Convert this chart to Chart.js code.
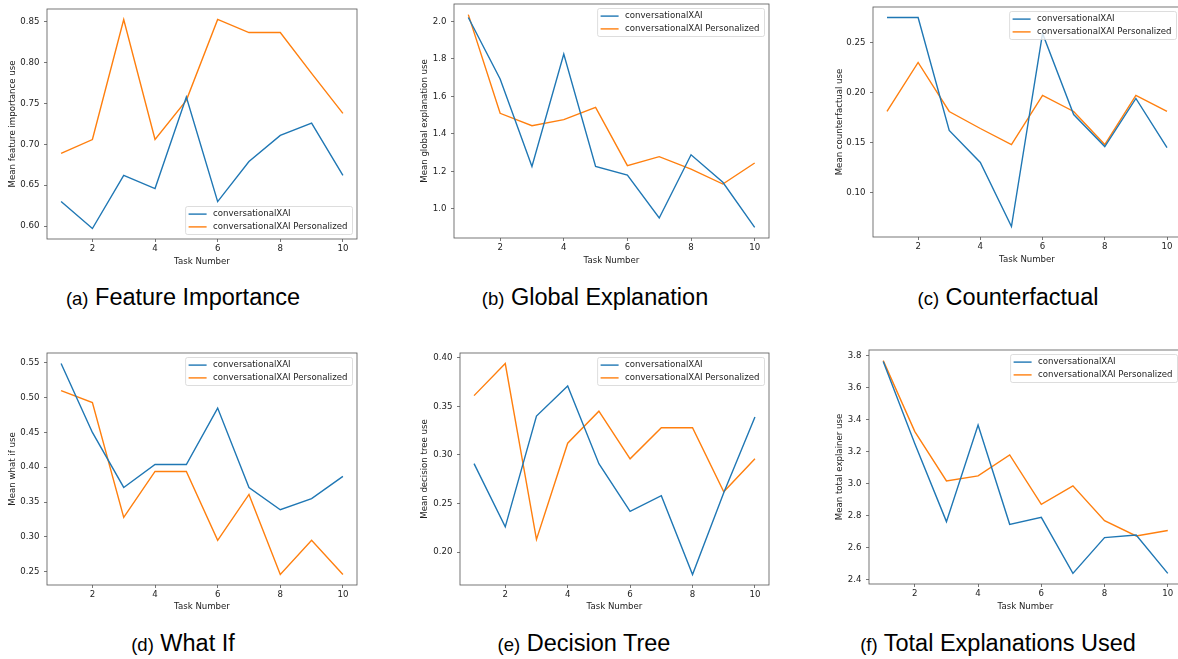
<!DOCTYPE html>
<html>
<head>
<meta charset="utf-8">
<script src="https://cdn.jsdelivr.net/npm/chart.js@4.4.0/dist/chart.umd.min.js"></script>
<style>
  body { margin: 0; width: 1178px; height: 659px; overflow: hidden; background: #fff; position: relative; }
  .panel { position: absolute; }
  .cap { position: absolute; width: 400px; text-align: center; white-space: nowrap;
         font-family: "Liberation Sans", Arial, sans-serif; font-size: 23.5px; line-height: 23.5px; color: #000; }
  .cap small { font-size: 18.5px; }
</style>
</head>
<body>
<div class="cap" style="left:-17px;top:286px"><small>(a)</small> Feature Importance</div>
<div class="cap" style="left:395px;top:286px"><small>(b)</small> Global Explanation</div>
<div class="cap" style="left:808px;top:286px"><small>(c)</small> Counterfactual</div>
<div class="cap" style="left:-17px;top:632px"><small>(d)</small> What If</div>
<div class="cap" style="left:384px;top:632px"><small>(e)</small> Decision Tree</div>
<div class="cap" style="left:798px;top:632px"><small>(f)</small> Total Explanations Used</div>

<script>
// data
const tasks = [1, 2, 3, 4, 5, 6, 7, 8, 9, 10];
const seriesNames = ['conversationalXAI', 'conversationalXAI Personalized'];
const xTicks = [2, 4, 6, 8, 10];

const featureBase = [0.630, 0.597, 0.662, 0.646, 0.758, 0.630, 0.679, 0.711, 0.726, 0.662];
const featurePers = [0.689, 0.706, 0.853, 0.706, 0.754, 0.853, 0.837, 0.837, 0.787, 0.738];
const featureTicks = [0.60, 0.65, 0.70, 0.75, 0.80, 0.85];

const globalBase = [2.021, 1.693, 1.227, 1.826, 1.227, 1.181, 0.952, 1.289, 1.142, 0.902];
const globalPers = [2.036, 1.510, 1.444, 1.476, 1.542, 1.231, 1.279, 1.213, 1.133, 1.245];
const globalTicks = [1.0, 1.2, 1.4, 1.6, 1.8, 2.0];

const cfBase = [0.275, 0.275, 0.162, 0.130, 0.066, 0.259, 0.178, 0.146, 0.194, 0.145];
const cfPers = [0.181, 0.230, 0.181, 0.164, 0.148, 0.197, 0.181, 0.148, 0.197, 0.181];
const cfTicks = [0.10, 0.15, 0.20, 0.25];

const whatIfBase = [0.549, 0.450, 0.371, 0.404, 0.404, 0.485, 0.371, 0.339, 0.355, 0.387];
const whatIfPers = [0.510, 0.493, 0.328, 0.394, 0.394, 0.295, 0.361, 0.246, 0.295, 0.246];
const whatIfTicks = [0.25, 0.30, 0.35, 0.40, 0.45, 0.50, 0.55];

const treeBase = [0.291, 0.226, 0.340, 0.371, 0.291, 0.242, 0.258, 0.177, 0.261, 0.339];
const treePers = [0.361, 0.394, 0.213, 0.312, 0.345, 0.296, 0.328, 0.328, 0.262, 0.296];
const treeTicks = [0.20, 0.25, 0.30, 0.35, 0.40];

const totalBase = [3.764, 3.250, 2.762, 3.367, 2.745, 2.789, 2.438, 2.662, 2.678, 2.438];
const totalPers = [3.770, 3.326, 3.017, 3.048, 3.180, 2.870, 2.986, 2.768, 2.672, 2.706];
const totalTicks = [2.4, 2.6, 2.8, 3.0, 3.2, 3.4, 3.6, 3.8];

// page layout of each plot area (px)
const panels = [
  { base: featureBase, pers: featurePers, ticks: featureTicks, dec: 2, yTitle: 'Mean feature importance use',
    L: 46.6, T: 9.3, R: 356.4, B: 239.3, yTitleX: 12, xTitleY: 22.3, legend: 'lower' },
  { base: globalBase, pers: globalPers, ticks: globalTicks, dec: 1, yTitle: 'Mean global explanation use',
    L: 454.3, T: 4, R: 769, B: 237.7, yTitleX: 425, xTitleY: 22.3, legend: 'upper' },
  { base: cfBase, pers: cfPers, ticks: cfTicks, dec: 2, yTitle: 'Mean counterfactual use',
    L: 873.3, T: 7.3, R: 1181.7, B: 237.7, yTitleX: 840, xTitleY: 22.3, legend: 'upper' },
  { base: whatIfBase, pers: whatIfPers, ticks: whatIfTicks, dec: 2, yTitle: 'Mean what if use',
    L: 46.6, T: 353.3, R: 356.4, B: 585, yTitleX: 12.7, xTitleY: 21.7, legend: 'upper' },
  { base: treeBase, pers: treePers, ticks: treeTicks, dec: 2, yTitle: 'Mean decision tree use',
    L: 460, T: 353.3, R: 769, B: 585, yTitleX: 425, xTitleY: 21.7, legend: 'upper' },
  { base: totalBase, pers: totalPers, ticks: totalTicks, dec: 1, yTitle: 'Mean total explainer use',
    L: 869, T: 350, R: 1182, B: 584.3, yTitleX: 840, xTitleY: 22.3, legend: 'upper' }
];

const YW = 46, XH = 30, PAD = 12;
const FONT = 8.6;
const LH = FONT * 1.2;
const SPINE = '#555';

Chart.defaults.font.family = '"DejaVu Sans"';
Chart.defaults.font.size = FONT;
Chart.defaults.color = '#222';

// axes box on all four sides + matplotlib style legend inside the axes
const frameAndLegend = {
  id: 'frameAndLegend',
  afterDatasetsDraw(chart, args, opts) {
    const { ctx, chartArea: a } = chart;
    ctx.save();
    ctx.strokeStyle = SPINE;
    ctx.lineWidth = 0.8;
    ctx.strokeRect(a.left, a.top, a.right - a.left, a.bottom - a.top);

    ctx.font = FONT + 'px "DejaVu Sans"';
    const ds = chart.data.datasets;
    const w = 27.5 + Math.max(...ds.map(d => ctx.measureText(d.label).width)) + 5;
    const h = 28;
    const x = a.right - 4.5 - w;
    const y = opts.corner === 'lower' ? a.bottom - 4.5 - h : a.top + 4.5;
    ctx.beginPath();
    ctx.roundRect(x, y, w, h, 2);
    ctx.fillStyle = 'rgba(255,255,255,0.8)';
    ctx.fill();
    ctx.strokeStyle = '#d4d4d4';
    ctx.lineWidth = 0.8;
    ctx.stroke();
    ds.forEach((d, i) => {
      const cy = y + 7.6 + i * 12.8;
      ctx.strokeStyle = d.borderColor;
      ctx.lineWidth = 1.4;
      ctx.beginPath();
      ctx.moveTo(x + 3, cy);
      ctx.lineTo(x + 21, cy);
      ctx.stroke();
      ctx.fillStyle = '#222';
      ctx.textBaseline = 'middle';
      ctx.fillText(d.label, x + 27.5, cy);
    });
    ctx.restore();
  }
};

function makePanel(p) {
  const left = p.L - YW, top = p.T - PAD;
  const width = (p.R - p.L) + YW + PAD;
  const height = (p.B - p.T) + PAD + XH;
  const div = document.createElement('div');
  div.className = 'panel';
  div.style.left = left + 'px';
  div.style.top = top + 'px';
  const canvas = document.createElement('canvas');
  canvas.width = Math.round(width);
  canvas.height = Math.round(height);
  canvas.style.width = Math.round(width) + 'px';
  canvas.style.height = Math.round(height) + 'px';
  div.appendChild(canvas);
  document.body.appendChild(div);

  const all = p.base.concat(p.pers);
  const lo = Math.min(...all), hi = Math.max(...all);
  const m = (hi - lo) * 0.05;

  new Chart(canvas.getContext('2d'), {
    type: 'line',
    data: {
      datasets: [
        { label: seriesNames[0], data: tasks.map((t, i) => ({ x: t, y: p.base[i] })), borderColor: '#1f77b4' },
        { label: seriesNames[1], data: tasks.map((t, i) => ({ x: t, y: p.pers[i] })), borderColor: '#ff7f0e' }
      ]
    },
    options: {
      responsive: false,
      animation: false,
      devicePixelRatio: 1,
      layout: { padding: { top: PAD, right: PAD, left: 0, bottom: 0 } },
      elements: {
        line: { borderWidth: 1.4, tension: 0, fill: false },
        point: { radius: 0, hoverRadius: 0 }
      },
      plugins: {
        legend: { display: false },
        tooltip: { enabled: false },
        frameAndLegend: { corner: p.legend }
      },
      scales: {
        x: {
          type: 'linear',
          min: 0.55,
          max: 10.45,
          afterBuildTicks: s => { s.ticks = xTicks.map(v => ({ value: v })); },
          afterFit: s => { s.height = XH; },
          ticks: { padding: 2, maxRotation: 0, callback: v => String(v) },
          grid: { display: true, drawOnChartArea: false, drawTicks: true, tickLength: 3, color: SPINE, lineWidth: 0.8 },
          border: { display: false },
          title: { display: true, text: 'Task Number', padding: { top: 0, bottom: XH - LH / 2 - p.xTitleY } }
        },
        y: {
          type: 'linear',
          min: lo - m,
          max: hi + m,
          afterBuildTicks: s => { s.ticks = p.ticks.map(v => ({ value: v })); },
          afterFit: s => { s.width = YW; },
          ticks: { padding: 4.5, callback: v => v.toFixed(p.dec) },
          grid: { display: true, drawOnChartArea: false, drawTicks: true, tickLength: 3, color: SPINE, lineWidth: 0.8 },
          border: { display: false },
          title: { display: true, text: p.yTitle, padding: { top: p.yTitleX - left - LH / 2, bottom: 0 } }
        }
      }
    },
    plugins: [frameAndLegend]
  });
}

panels.forEach(makePanel);
</script>
</body>
</html>
